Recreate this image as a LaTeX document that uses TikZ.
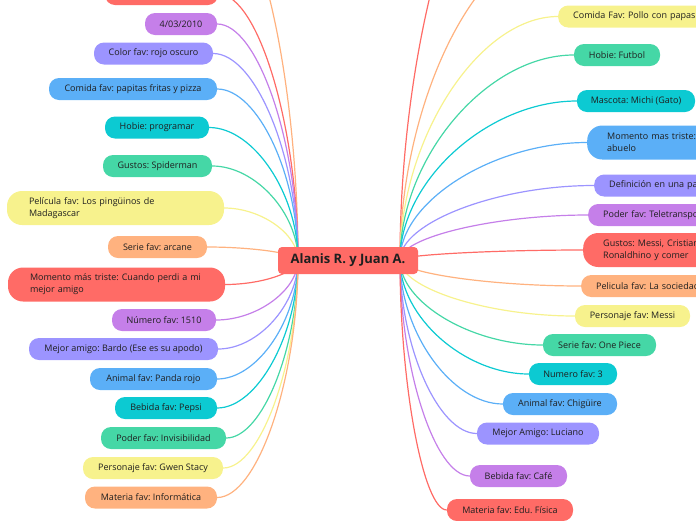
\documentclass[tikz,border=0pt]{standalone}
\usepackage{fontspec}
\setmainfont{Open Sans}
\usepackage{xcolor}
\usepackage{tikz}
\usetikzlibrary{positioning,calc,backgrounds}
\definecolor{MapRed}{HTML}{FF6B66}
\definecolor{MapPeach}{HTML}{FFB27F}
\definecolor{MapYellow}{HTML}{F7F28D}
\definecolor{MapGreen}{HTML}{45D7A6}
\definecolor{MapCyan}{HTML}{0CCAD2}
\definecolor{MapBlue}{HTML}{5BAFF7}
\definecolor{MapLavender}{HTML}{9C94FF}
\definecolor{MapPurple}{HTML}{C57FE9}
\definecolor{MapText}{HTML}{1F1F1F}
\frenchspacing
\tikzset{
    topic/.style={rounded corners=10pt, minimum height=22pt, inner xsep=0pt, inner ysep=2pt,
        text=MapText, font=\fontsize{9}{12}\selectfont},
    longtopic/.style={topic, rounded corners=15pt, minimum height=34pt, align=left},
    cuttopic/.style={topic, anchor=west, inner xsep=15pt, text width=170pt, align=left},
    branch/.style={line width=1.2pt, to path={
        .. controls ($(\tikztostart)!0.5!(\tikztostart|-\tikztotarget)$)
        and ($(\tikztotarget)!0.5!(\tikztostart|-\tikztotarget)$) .. (\tikztotarget) \tikztonodes}}
}

\begin{document}
\begin{tikzpicture}[x=1pt, y=-1pt,
                % nodo central
                maintopic/.style={
                    fill=MapRed,
                    rounded corners=4pt,
                    minimum width=140pt,
                    minimum height=27pt,
                    text=MapText,
                    font=\fontsize{13}{15}\selectfont\bfseries
                }
            ]
                \useasboundingbox (0,0) rectangle (696,520);
                \clip (0,0) rectangle (696,520);

                % centro
                \node[maintopic] (alanis) at (348,260.5) {Alanis R. y Juan A.};
                \coordinate (sl) at (298,260);
                \coordinate (sr) at (400,260);

                % lado izquierdo
                \node[topic, fill=MapRed, minimum width=113pt] (l0) at (161.5,-6) {};
                \node[topic, fill=MapPurple, minimum width=72pt] (l1) at (181,24) {4/03/2010};
                \node[topic, fill=MapLavender, minimum width=119pt] (l2) at (153.5,53.5) {Color fav: rojo oscuro};
                \node[topic, fill=MapBlue, minimum width=168pt] (l3) at (133,89) {Comida fav: papitas fritas y pizza};
                \node[topic, fill=MapCyan, minimum width=104pt] (l4) at (157,127.5) {Hobie: programar};
                \node[topic, fill=MapGreen, minimum width=109pt] (l5) at (157.5,166) {Gustos: Spiderman};
                \node[longtopic, fill=MapYellow, inner xsep=22pt, text width=173pt] (l6) at (115.5,208)
                    {Película fav: Los pingüinos de\\Madagascar};
                \node[topic, fill=MapPeach, minimum width=99pt] (l7) at (157.5,247) {Serie fav: arcane};
                \node[longtopic, fill=MapRed, inner xsep=22pt, text width=173pt] (l8) at (116.5,284.5)
                    {Momento más triste: Cuando perdi a mi\\mejor amigo};
                \node[topic, fill=MapPurple, minimum width=104pt] (l9) at (164,320) {Número fav: 1510};
                \node[topic, fill=MapLavender, minimum width=189pt] (l10) at (123.5,349) {Mejor amigo: Bardo (Ese es su apodo)};
                \node[topic, fill=MapBlue, minimum width=127pt] (l11) at (153.5,379) {Animal fav: Panda rojo};
                \node[topic, fill=MapCyan, minimum width=102pt] (l12) at (166,408) {Bebida fav: Pepsi};
                \node[topic, fill=MapGreen, minimum width=125pt] (l13) at (163.5,438) {Poder fav: Invisibilidad};
                \node[topic, fill=MapYellow, minimum width=140pt] (l14) at (153,468) {Personaje fav: Gwen Stacy};
                \node[topic, fill=MapPeach, minimum width=132pt] (l15) at (151,497.5) {Materia fav: Informática};
                \coordinate (lpeach) at (220,-95);

                % lado derecho
                \node[cuttopic, fill=MapYellow] (r1) at (558,16.5) {Comida Fav: Pollo con papas};
                \node[topic, fill=MapGreen, minimum width=86pt] (r2) at (617,55) {Hobie: Futbol};
                \node[topic, fill=MapCyan, minimum width=118pt] (r3) at (636,101) {Mascota: Michi (Gato)};
                \node[cuttopic, longtopic, inner xsep=20pt, fill=MapBlue] (r4) at (587,142.5)
                    {Momento mas triste:\\abuelo};
                \node[cuttopic, fill=MapLavender] (r5) at (594,185.5) {Definición en una pa};
                \node[cuttopic, fill=MapPurple] (r6) at (588,215) {Poder fav: Teletranspo};
                \node[cuttopic, longtopic, inner xsep=20pt, fill=MapRed] (r7) at (583,250)
                    {Gustos: Messi, Cristian\\Ronaldhino y comer};
                \node[cuttopic, fill=MapPeach] (r8) at (581,286) {Pelicula fav: La sociedad};
                \node[topic, fill=MapYellow, minimum width=115pt] (r9) at (632.5,316) {Personaje fav: Messi};
                \node[topic, fill=MapGreen, minimum width=113pt] (r10) at (599.5,345) {Serie fav: One Piece};
                \node[topic, fill=MapCyan, minimum width=88pt] (r11) at (573,374) {Numero fav: 3};
                \node[topic, fill=MapBlue, minimum width=114pt] (r12) at (560,404) {Animal fav: Chigüire};
                \node[topic, fill=MapLavender, minimum width=122pt] (r13) at (538,433.5) {Mejor Amigo: Luciano};
                \node[topic, fill=MapPurple, minimum width=97pt] (r14) at (518.5,476) {Bebida fav: Café};
                \node[topic, fill=MapRed, minimum width=126pt] (r15) at (510,510) {Materia fav: Edu. Física};
                \coordinate (rred) at (535,-190);
                \coordinate (rpeach) at (555,-55);

                % ramas
                \begin{scope}[on background layer]
                    \draw[branch, MapPeach] (sl) to (lpeach);
                    \draw[branch, MapRed] (sl) to (l0.east);
                    \draw[branch, MapPurple] (sl) to (l1.east);
                    \draw[branch, MapLavender] (sl) to (l2.east);
                    \draw[branch, MapBlue] (sl) to (l3.east);
                    \draw[branch, MapCyan] (sl) to (l4.east);
                    \draw[branch, MapGreen] (sl) to (l5.east);
                    \draw[branch, MapYellow] (sl) to (l6.east);
                    \draw[branch, MapPeach] (sl) to (l7.east);
                    \draw[branch, MapRed] (sl) to (l8.east);
                    \draw[branch, MapPurple] (sl) to (l9.east);
                    \draw[branch, MapLavender] (sl) to (l10.east);
                    \draw[branch, MapBlue] (sl) to (l11.east);
                    \draw[branch, MapCyan] (sl) to (l12.east);
                    \draw[branch, MapGreen] (sl) to (l13.east);
                    \draw[branch, MapYellow] (sl) to (l14.east);
                    \draw[branch, MapPeach] (sl) to (l15.east);
                    \draw[branch, MapRed] (sr) to (rred);
                    \draw[branch, MapPeach] (sr) to (rpeach);
                    \draw[branch, MapYellow] (sr) to (r1.west);
                    \draw[branch, MapGreen] (sr) to (r2.west);
                    \draw[branch, MapCyan] (sr) to (r3.west);
                    \draw[branch, MapBlue] (sr) to (r4.west);
                    \draw[branch, MapLavender] (sr) to (r5.west);
                    \draw[branch, MapPurple] (sr) to (r6.west);
                    \draw[branch, MapRed] (sr) to (r7.west);
                    \draw[branch, MapPeach] (sr) to (r8.west);
                    \draw[branch, MapYellow] (sr) to (r9.west);
                    \draw[branch, MapGreen] (sr) to (r10.west);
                    \draw[branch, MapCyan] (sr) to (r11.west);
                    \draw[branch, MapBlue] (sr) to (r12.west);
                    \draw[branch, MapLavender] (sr) to (r13.west);
                    \draw[branch, MapPurple] (sr) to (r14.west);
                    \draw[branch, MapRed] (sr) to (r15.west);
                \end{scope}
            \end{tikzpicture}
\end{document}
